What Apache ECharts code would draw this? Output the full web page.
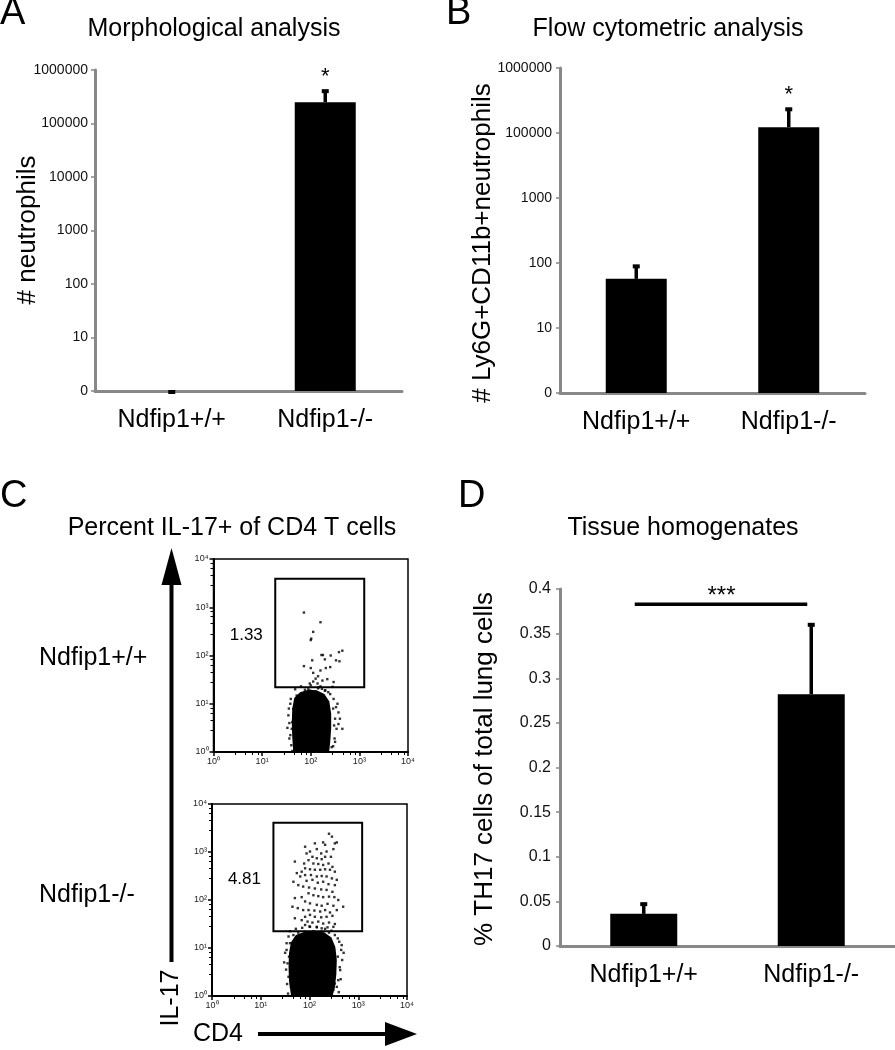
<!DOCTYPE html>
<html>
<head>
<meta charset="utf-8">
<script src="https://cdn.jsdelivr.net/npm/echarts@6/dist/echarts.min.js"></script>
<style>
  html, body { margin: 0; padding: 0; background: #fff; }
  #chart { width: 895px; height: 1050px; }
</style>
</head>
<body>
<div id="chart"></div>
<script>
const FONT = '"Liberation Sans", Arial, Helvetica, sans-serif';
const GRAY = '#888888';

// shared categories
const categories = ['Ndfip1+/+', 'Ndfip1-/-'];

// A - morphological analysis (log-like axis, tick labels as printed)
const aTicks = ['0', '10', '100', '1000', '10000', '100000', '1000000'];
const aMean = [0, 250000];
const aErr = [0, 170000];
const aSig = ['', '*'];

// B - flow cytometric analysis (labels as printed, 10000 is missing on the original)
const bTicks = ['0', '10', '100', '1000', '100000', '1000000'];
const bMean = [57, 123000];
const bErr = [35, 117000];
const bSig = ['', '*'];

// D - tissue homogenates
const dTicks = ['0', '0.05', '0.1', '0.15', '0.2', '0.25', '0.3', '0.35', '0.4'];
const dMean = [0.036, 0.282];
const dErr = [0.012, 0.079];
const dBracket = { from: 0, to: 1, y: 0.383, label: '***' };

// C - flow plots, values are log10(CD4), log10(IL-17)
const flowTicks = ['10⁰', '10¹', '10²', '10³', '10⁴'];
const wtPct = '1.33';
const koPct = '4.81';
const wtGate = [[1.27, 1.34], [3.10, 3.59]];
const koGate = [[1.26, 1.35], [3.08, 3.61]];

// dense IL-17- cell clouds (outline of the solid black area)
const wtCore = [[1.64, 0.02], [1.62, 0.30], [1.61, 0.60], [1.62, 0.90], [1.66, 1.12], [1.78, 1.24],
  [1.95, 1.29], [2.12, 1.28], [2.28, 1.20], [2.38, 1.05], [2.42, 0.80], [2.42, 0.50], [2.40, 0.20],
  [2.38, 0.02]];
const koCore = [[1.62, 0.02], [1.58, 0.30], [1.57, 0.60], [1.58, 0.90], [1.62, 1.12], [1.72, 1.27],
  [1.90, 1.34], [2.10, 1.36], [2.30, 1.33], [2.45, 1.22], [2.53, 1.02], [2.56, 0.75], [2.55, 0.45],
  [2.52, 0.18], [2.48, 0.02]];

// single events, Ndfip1+/+
const wtDots = [
  [1.86, 2.89], [2.20, 2.69], [2.05, 2.49], [2.01, 2.35], [2.00, 2.32], [2.25, 2.01], [2.22, 2.01],
  [2.41, 2.00], [2.58, 2.07], [2.65, 2.10], [2.52, 1.90], [2.59, 1.88], [2.29, 1.92], [2.03, 1.90],
  [1.86, 1.78], [2.31, 1.74], [2.40, 1.76], [2.20, 1.69], [2.05, 1.64], [2.15, 1.57], [2.10, 1.52],
  [2.05, 1.46], [2.24, 1.48], [2.34, 1.51], [2.47, 1.45], [2.14, 1.42], [1.98, 1.42], [2.00, 1.74],
  [1.95, 1.30], [2.15, 1.32], [2.30, 1.28], [2.45, 1.35],
  [1.58, 1.00], [1.54, 0.76], [1.61, 0.48], [1.56, 0.28], [1.60, 0.14], [1.66, 0.03], [2.50, 0.69],
  [2.53, 0.48], [2.65, 0.48], [2.57, 0.82], [2.47, 1.10], [2.36, 1.24], [2.23, 1.31], [2.09, 1.25],
  [1.82, 1.22], [1.71, 1.17], [2.43, 0.10], [2.49, 0.28], [2.60, 0.69], [2.23, 0.03], [1.88, 1.29],
  [1.99, 1.27], [2.16, 1.34], [2.29, 1.27], [1.75, 1.07], [1.64, 0.89], [2.52, 0.93], [2.57, 0.58],
  [2.50, 0.21], [1.62, 0.62],
  [1.55, 0.90], [1.56, 0.60], [1.58, 0.35], [1.59, 1.10], [1.68, 1.30], [1.80, 1.36], [2.00, 1.38],
  [2.20, 1.36], [2.40, 1.20], [2.46, 0.90], [2.48, 0.55], [2.46, 0.12], [1.62, 0.02], [2.55, 1.00],
  [1.52, 0.50]
];

// single events, Ndfip1-/-
const koDots = [
  [2.40, 3.38], [2.46, 3.32], [2.52, 3.18], [2.56, 3.20], [2.11, 3.18], [2.28, 3.20], [2.32, 3.15],
  [2.15, 3.06], [1.91, 3.11], [2.01, 3.01], [2.24, 2.97], [2.35, 3.01], [2.49, 3.06], [2.44, 2.90],
  [1.94, 2.97], [2.06, 2.90], [2.15, 2.87], [2.25, 2.85], [2.32, 2.90], [1.98, 2.83], [1.89, 2.76],
  [1.70, 2.80], [2.08, 2.76], [2.18, 2.75], [2.28, 2.73], [2.39, 2.76], [2.47, 2.69], [1.91, 2.66],
  [2.01, 2.64], [2.11, 2.63], [2.22, 2.63], [2.32, 2.64], [2.42, 2.63], [2.52, 2.59], [1.84, 2.59],
  [1.74, 2.56], [1.67, 2.38], [1.81, 2.49], [1.91, 2.52], [2.03, 2.52], [2.15, 2.49], [2.25, 2.50],
  [2.35, 2.49], [2.46, 2.45], [2.56, 2.42], [1.94, 2.40], [2.06, 2.42], [2.17, 2.36], [2.28, 2.38],
  [2.39, 2.33], [2.52, 2.31], [1.77, 2.31], [1.87, 2.28], [1.99, 2.26], [2.11, 2.24], [2.24, 2.22],
  [2.35, 2.21], [2.47, 2.17], [1.98, 2.14], [2.08, 2.10], [2.18, 2.08], [2.28, 2.06], [2.40, 2.07],
  [2.51, 2.06], [2.59, 2.00], [1.70, 2.04], [1.84, 2.06], [1.91, 1.97], [2.01, 1.93], [2.15, 1.90],
  [2.25, 1.88], [2.37, 1.92], [2.49, 1.88], [1.65, 1.86], [1.76, 1.83], [1.87, 1.79], [1.98, 1.79],
  [2.10, 1.78], [2.22, 1.76], [2.32, 1.79], [2.42, 1.74], [2.56, 1.79], [2.69, 1.86], [1.91, 1.65],
  [2.01, 1.69], [2.11, 1.65], [2.24, 1.64], [2.35, 1.65], [2.47, 1.67], [1.70, 1.62], [1.84, 1.58],
  [1.96, 1.55], [2.06, 1.53], [2.18, 1.55], [2.28, 1.51], [2.40, 1.53], [2.52, 1.50], [1.91, 1.48],
  [2.01, 1.44], [2.15, 1.43], [2.25, 1.41], [2.37, 1.43], [2.49, 1.44],
  [1.57, 1.24], [1.53, 0.96], [1.55, 0.68], [1.57, 0.40], [1.62, 0.19], [1.60, 1.10], [1.67, 1.27],
  [1.77, 1.32], [1.91, 1.34], [2.08, 1.35], [2.25, 1.34], [2.40, 1.32], [2.52, 1.27], [2.61, 1.13],
  [2.65, 0.96], [2.67, 0.75], [2.63, 0.54], [2.59, 0.33], [2.56, 0.19], [2.49, 0.13], [1.70, 0.13],
  [1.58, 0.82], [2.66, 1.06], [2.58, 0.82], [1.63, 0.54], [2.52, 0.26],
  [1.50, 0.90], [1.52, 0.55], [1.54, 0.25], [1.53, 1.10], [1.60, 1.35], [1.72, 1.40], [1.85, 1.42],
  [2.00, 1.45], [2.15, 1.44], [2.32, 1.40], [2.45, 1.36], [2.58, 1.20], [2.62, 0.60], [2.64, 0.35],
  [2.60, 0.08], [1.56, 0.05], [2.70, 0.90], [1.48, 0.70]
];

// position on an axis whose ticks are evenly spaced at the printed labels ("0" sits where 1 would)
function tickPos(v, ticks) {
  const n = ticks.map(t => Math.max(1, Number(t)));
  if (v <= n[0]) return 0;
  for (let i = 0; i < n.length - 1; i++) {
    if (v <= n[i + 1]) return i + Math.log(v / n[i]) / Math.log(n[i + 1] / n[i]);
  }
  return n.length - 1;
}
const exp10 = p => [Math.pow(10, p[0]), Math.pow(10, p[1])];

const errRender = (sig) => (params, api) => {
  const x = api.value(0);
  const base = api.coord([x, api.value(1)]);
  const top = api.coord([x, api.value(2)]);
  const kids = [
    { type: 'line', shape: { x1: base[0], y1: base[1], x2: top[0], y2: top[1] }, style: { stroke: '#000', lineWidth: 3.5 } },
    { type: 'rect', shape: { x: top[0] - 3.5, y: top[1] - 1, width: 7, height: 4 }, style: { fill: '#000' } }
  ];
  if (sig && sig[params.dataIndex]) {
    kids.push({ type: 'text', x: top[0], y: top[1] - 13,
      style: { text: sig[params.dataIndex], font: '22px ' + FONT, fill: '#000', align: 'center', verticalAlign: 'middle' } });
  }
  return { type: 'group', children: kids };
};

function catAxis(gi) {
  return {
    type: 'category', gridIndex: gi, data: categories,
    axisLine: { lineStyle: { color: GRAY, width: 3 } },
    axisTick: { show: false },
    axisLabel: { color: '#000', fontSize: 25, fontFamily: FONT, margin: 17 }
  };
}
function valAxis(gi, max, interval, labels, fs, margin) {
  return {
    type: 'value', gridIndex: gi, min: 0, max: max, interval: interval,
    axisLine: { show: true, lineStyle: { color: GRAY, width: 3 } },
    axisTick: { show: true, length: 4, lineStyle: { color: GRAY, width: 1.5 } },
    splitLine: { show: false },
    axisLabel: { color: '#111', fontSize: fs, fontFamily: FONT, margin: margin,
      formatter: v => labels[Math.round(v / interval)] }
  };
}
function flowAxis(gi) {
  return {
    type: 'log', gridIndex: gi, min: 1, max: 10000, logBase: 10,
    axisLine: { lineStyle: { color: '#000', width: 2 } },
    axisTick: { length: 4, lineStyle: { color: '#000', width: 1.5 } },
    minorTick: { show: true, splitNumber: 5, length: 3, lineStyle: { color: '#000', width: 1 } },
    splitLine: { show: false },
    axisLabel: { color: '#222', fontSize: 9, fontFamily: FONT, margin: 5,
      formatter: v => flowTicks[Math.round(Math.log10(v))] }
  };
}

function errSeries(gi, means, errs, sig, map) {
  return {
    type: 'custom', xAxisIndex: gi, yAxisIndex: gi, z: 5, silent: true,
    renderItem: errRender(sig),
    encode: { x: 0, y: [1, 2] },
    data: means.map((m, i) => [i, map(m), map(m + errs[i])])
  };
}
function coreSeries(gi, core) {
  return {
    type: 'custom', xAxisIndex: gi, yAxisIndex: gi, silent: true, clip: true,
    encode: { x: 0, y: 1 },
    data: core.map(exp10),
    renderItem: (params, api) => params.dataIndex !== 0 ? null : {
      type: 'polygon',
      shape: { points: core.map(p => api.coord(exp10(p))) },
      style: { fill: '#000' }
    }
  };
}
function dotSeries(gi, dots) {
  return {
    type: 'scatter', xAxisIndex: gi, yAxisIndex: gi, silent: true,
    symbol: 'rect', symbolSize: 2.4, itemStyle: { color: '#000' },
    data: dots.map(exp10)
  };
}
function gateSeries(gi, gate, pct) {
  return {
    type: 'custom', xAxisIndex: gi, yAxisIndex: gi, silent: true, z: 4,
    encode: { x: [0, 2], y: [1, 3] },
    data: [exp10(gate[0]).concat(exp10(gate[1]))],
    renderItem: (params, api) => {
      const p0 = api.coord([api.value(0), api.value(1)]);
      const p1 = api.coord([api.value(2), api.value(3)]);
      return { type: 'group', children: [
        { type: 'rect', shape: { x: p0[0], y: p1[1], width: p1[0] - p0[0], height: p0[1] - p1[1] },
          style: { fill: 'none', stroke: '#000', lineWidth: 2 } },
        { type: 'text', x: p0[0] - 29, y: (p0[1] + p1[1]) / 2 + 2,
          style: { text: pct, font: '17px ' + FONT, fill: '#000', align: 'center', verticalAlign: 'middle' } }
      ] };
    }
  };
}

const texts = [
  ['A', 0, 14, 38, 'left', 0], ['B', 446, 14, 38, 'left', 0],
  ['C', 0, 497, 38, 'left', 0], ['D', 458, 497, 38, 'left', 0],
  ['Morphological analysis', 214, 29, 25, 'center', 0],
  ['Flow cytometric analysis', 668, 29, 25, 'center', 0],
  ['Percent IL-17+ of CD4 T cells', 232, 528, 25, 'center', 0],
  ['Tissue homogenates', 683, 528, 25, 'center', 0],
  ['# neutrophils', 28, 230, 26, 'center', 1],
  ['# Ly6G+CD11b+neutrophils', 483, 243, 26, 'center', 1],
  ['% TH17 cells of total lung cells', 485, 769, 26, 'center', 1],
  ['Ndfip1+/+', 39, 658, 25, 'left', 0],
  ['Ndfip1-/-', 39, 895, 25, 'left', 0],
  ['IL-17', 171, 998, 25, 'center', 1],
  ['CD4', 193, 1034, 25, 'left', 0]
];

const graphic = texts.map(t => ({
  type: 'text', x: t[1], y: t[2], rotation: t[5] ? Math.PI / 2 : 0,
  style: { text: t[0], font: t[3] + 'px ' + FONT, fill: '#000', align: t[4], verticalAlign: 'middle' }
})).concat([
  { type: 'line', shape: { x1: 171.5, y1: 962, x2: 171.5, y2: 580 }, style: { stroke: '#000', lineWidth: 4 } },
  { type: 'polygon', shape: { points: [[171.5, 548], [161.5, 585], [181.5, 585]] }, style: { fill: '#000' } },
  { type: 'line', shape: { x1: 258, y1: 1034, x2: 390, y2: 1034 }, style: { stroke: '#000', lineWidth: 4 } },
  { type: 'polygon', shape: { points: [[417, 1034], [385, 1022], [385, 1046]] }, style: { fill: '#000' } }
]);

const chart = echarts.init(document.getElementById('chart'), null, { renderer: 'canvas' });
chart.setOption({
  animation: false,
  backgroundColor: '#fff',
  textStyle: { fontFamily: FONT },
  grid: [
    { left: 95, top: 70, width: 307, height: 321 },
    { left: 560, top: 68, width: 305, height: 325 },
    { left: 213.5, top: 559, width: 194.5, height: 193, show: true, borderColor: '#000', borderWidth: 1.5 },
    { left: 212, top: 804, width: 195, height: 192, show: true, borderColor: '#000', borderWidth: 1.5 },
    { left: 560, top: 589, right: 0, height: 357 }
  ],
  xAxis: [catAxis(0), catAxis(1), flowAxis(2), flowAxis(3), catAxis(4)],
  yAxis: [
    valAxis(0, aTicks.length - 1, 1, aTicks, 14, 7),
    valAxis(1, bTicks.length - 1, 1, bTicks, 14, 8),
    flowAxis(2), flowAxis(3),
    valAxis(4, 0.4, 0.05, dTicks, 16, 9)
  ],
  series: [
    { type: 'bar', xAxisIndex: 0, yAxisIndex: 0, barWidth: 61, itemStyle: { color: '#000' },
      data: aMean.map(v => tickPos(v, aTicks)) },
    errSeries(0, aMean, aErr, aSig, v => tickPos(v, aTicks)),
    { type: 'bar', xAxisIndex: 1, yAxisIndex: 1, barWidth: 61, itemStyle: { color: '#000' },
      data: bMean.map(v => tickPos(v, bTicks)) },
    errSeries(1, bMean, bErr, bSig, v => tickPos(v, bTicks)),
    coreSeries(2, wtCore), dotSeries(2, wtDots), gateSeries(2, wtGate, wtPct),
    coreSeries(3, koCore), dotSeries(3, koDots), gateSeries(3, koGate, koPct),
    { type: 'bar', xAxisIndex: 4, yAxisIndex: 4, barWidth: 67, itemStyle: { color: '#000' }, data: dMean },
    errSeries(4, dMean, dErr, null, v => v),
    {
      type: 'custom', xAxisIndex: 4, yAxisIndex: 4, silent: true, z: 5,
      encode: { x: 0, y: 1 },
      data: [[dBracket.from, dBracket.y]],
      renderItem: (params, api) => {
        const a = api.coord([dBracket.from, dBracket.y]);
        const b = api.coord([dBracket.to, dBracket.y]);
        return { type: 'group', children: [
          { type: 'line', shape: { x1: a[0] - 9, y1: a[1], x2: b[0] - 4, y2: b[1] }, style: { stroke: '#000', lineWidth: 3.5 } },
          { type: 'text', x: (a[0] + b[0]) / 2 - 6, y: a[1] - 8,
            style: { text: dBracket.label, font: '24px ' + FONT, fill: '#000', align: 'center', verticalAlign: 'middle' } }
        ] };
      }
    }
  ],
  graphic: graphic
});
</script>
</body>
</html>
